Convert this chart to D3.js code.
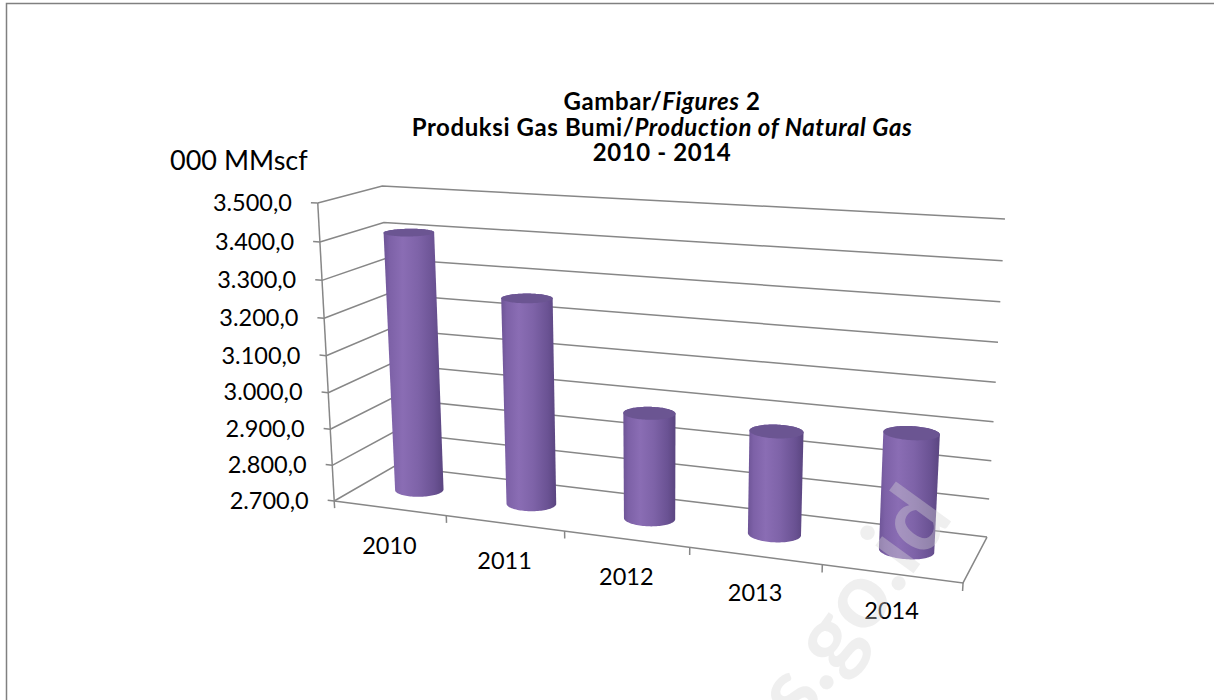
<!DOCTYPE html>
<html>
<head>
<meta charset="utf-8">
<script src="https://cdn.jsdelivr.net/npm/d3@7"></script>
<style>
  body { margin: 0; background: #fff; }
  svg text { font-family: Lato, "Open Sans", sans-serif; fill: #000; }
</style>
</head>
<body>
<div class="chart"></div>
<script>
// data
const years = ['2010', '2011', '2012', '2013', '2014'];
const production = [3407.6, 3256.4, 2982.8, 2969.2, 2999.5];
const yTicks = [2700, 2800, 2900, 3000, 3100, 3200, 3300, 3400, 3500];

const width = 1214;
const height = 700;
const depth = 1.1; // floor depth in category units

const svg = d3.select('.chart')
  .append('svg')
    .attr('width', width)
    .attr('height', height);

// frame
svg.append('path')
  .attr('d', `M6.5,${height} V3.5 H${width}`)
  .attr('fill', 'none')
  .attr('stroke', '#808080')
  .attr('stroke-width', 1.5);

// scales (world units)
const x = d3.scaleBand().domain(years).range([0, 5]).padding(0);
const y = d3.scaleLinear().domain([2700, 3500]).range([0, 1]);

// box corners in world -> where they sit on the page (layout)
const boxCorners = [
  [[0, 1, 0], [318, 203]],
  [[0, 0, 0], [334, 501]],
  [[0, 1, depth], [382, 186]],
  [[0, 0, depth], [395, 466]],
  [[5, 1, depth], [1005, 219]],
  [[5, 0, depth], [987, 537]],
  [[5, 0, 0], [963, 583]]
];

// fit a perspective camera (3x4) to the box corners
function fitCamera(pairs) {
  const rows = [], rhs = [];
  pairs.forEach(([[X, Y, Z], [u0, v0]]) => {
    const u = (u0 - 600) / 300, v = (v0 - 400) / 300;
    rows.push([X, Y, Z, 1, 0, 0, 0, 0, -u * X, -u * Y, -u * Z]); rhs.push(u);
    rows.push([0, 0, 0, 0, X, Y, Z, 1, -v * X, -v * Y, -v * Z]); rhs.push(v);
  });
  const n = 11;
  const M = d3.range(n).map(() => new Array(n + 1).fill(0));
  rows.forEach((r, k) => {
    for (let i = 0; i < n; i++) {
      for (let j = 0; j < n; j++) M[i][j] += r[i] * r[j];
      M[i][n] += r[i] * rhs[k];
    }
  });
  for (let c = 0; c < n; c++) {
    let piv = c;
    for (let r = c + 1; r < n; r++) if (Math.abs(M[r][c]) > Math.abs(M[piv][c])) piv = r;
    [M[c], M[piv]] = [M[piv], M[c]];
    for (let r = 0; r < n; r++) {
      if (r === c) continue;
      const f = M[r][c] / M[c][c];
      for (let j = c; j <= n; j++) M[r][j] -= f * M[c][j];
    }
  }
  return M.map((row, i) => row[n] / row[i]);
}
const p = fitCamera(boxCorners);
function project(X, Y, Z) {
  const w = p[8] * X + p[9] * Y + p[10] * Z + 1;
  return [
    600 + 300 * (p[0] * X + p[1] * Y + p[2] * Z + p[3]) / w,
    400 + 300 * (p[4] * X + p[5] * Y + p[6] * Z + p[7]) / w
  ];
}
const line = d3.line();

const chart = svg.append('g');
const gridColor = '#878787';

// gridlines on the side wall and back wall
chart.selectAll('.grid')
  .data(yTicks)
  .enter().append('path')
    .attr('class', 'grid')
    .attr('d', t => line([project(0, y(t), 0), project(0, y(t), depth), project(5, y(t), depth)]))
    .attr('fill', 'none')
    .attr('stroke', gridColor)
    .attr('stroke-width', 1.5);

// floor front and right edges
chart.append('path')
  .attr('d', line([project(0, 0, 0), project(5, 0, 0), project(5, 0, depth)]))
  .attr('fill', 'none')
  .attr('stroke', gridColor)
  .attr('stroke-width', 1.5);

// vertical axis
chart.append('path')
  .attr('d', line([project(0, 0, 0), project(0, 1, 0)]))
  .attr('fill', 'none')
  .attr('stroke', gridColor)
  .attr('stroke-width', 1.5);

// y ticks and labels
const fmt = d3.formatLocale({ decimal: ',', thousands: '.', grouping: [3], currency: ['', ''] }).format(',.1f');
yTicks.forEach(t => {
  const a = project(0, y(t), 0), b = project(-0.06, y(t), 0);
  chart.append('path')
    .attr('d', line([a, b]))
    .attr('stroke', gridColor)
    .attr('stroke-width', 1.5);
  chart.append('text')
    .attr('x', b[0] - 19)
    .attr('y', b[1])
    .attr('dy', '0.36em')
    .attr('text-anchor', 'end')
    .style('font-size', '23.5px')
    .text(fmt(t));
});

// x ticks on the front edge
d3.range(0, 6).forEach(i => {
  chart.append('path')
    .attr('d', line([project(i, 0, 0), project(i, -0.025, 0)]))
    .attr('stroke', gridColor)
    .attr('stroke-width', 1.5);
});

// x labels
chart.selectAll('.xlabel')
  .data(years)
  .enter().append('text')
    .attr('class', 'xlabel')
    .attr('x', d => project(x(d) + x.bandwidth() / 2, 0, 0)[0])
    .attr('y', d => project(x(d) + x.bandwidth() / 2, 0, 0)[1] + 37)
    .attr('dy', '0.36em')
    .attr('text-anchor', 'middle')
    .style('font-size', '23.5px')
    .text(d => d);

// cylinders
const defs = svg.append('defs');
const angles = d3.range(0, 2 * Math.PI, Math.PI / 48);
const bars = years.map((yr, i) => {
  const cx = x(yr) + x.bandwidth() / 2, cz = depth / 2, r = x.bandwidth() * 0.2;
  const ring = Y => angles.map(a => project(cx + r * Math.cos(a), Y, cz + r * Math.sin(a)));
  return { yr, top: ring(y(production[i])), bottom: ring(0) };
});

bars.forEach((b, i) => {
  const hull = d3.polygonHull(b.top.concat(b.bottom));
  const [x0, x1] = d3.extent(hull, q => q[0]);
  const g = defs.append('linearGradient')
    .attr('id', 'cyl' + i)
    .attr('gradientUnits', 'userSpaceOnUse')
    .attr('x1', x0).attr('x2', x1).attr('y1', 0).attr('y2', 0);
  [[0, '#6d5496'], [0.1, '#7d61a7'], [0.32, '#8a6db4'], [0.58, '#7e63a8'], [0.85, '#6a5293'], [1, '#5a4580']]
    .forEach(([o, c]) => g.append('stop').attr('offset', o).attr('stop-color', c));

  chart.append('path')
    .attr('d', line(hull) + 'Z')
    .attr('fill', `url(#cyl${i})`);
  chart.append('path')
    .attr('d', line(b.top) + 'Z')
    .attr('fill', '#6b5592');
});

// watermark
svg.append('text')
  .attr('transform', 'translate(740,812) rotate(-54)')
  .style('font-size', '92px')
  .style('font-weight', 'bold')
  .style('fill', '#d6d6d6')
  .style('fill-opacity', 0.38)
  .text('bps.go.id');

// axis unit
svg.append('text')
  .attr('x', 170)
  .attr('y', 170)
  .style('font-size', '27px')
  .text('000 MMscf');

// title
const title = svg.append('text')
  .attr('text-anchor', 'middle')
  .style('font-size', '24px')
  .style('font-weight', 'bold')
  .style('letter-spacing', '0.6px');
const l1 = title.append('tspan').attr('x', 662).attr('y', 110);
l1.append('tspan').text('Gambar/');
l1.append('tspan').style('font-style', 'italic').text('Figures');
l1.append('tspan').text(' 2');
const l2 = title.append('tspan').attr('x', 662).attr('y', 136);
l2.append('tspan').text('Produksi Gas Bumi/');
l2.append('tspan').style('font-style', 'italic').text('Production of Natural Gas');
title.append('tspan').attr('x', 662).attr('y', 161).text('2010 - 2014');
</script>
</body>
</html>
